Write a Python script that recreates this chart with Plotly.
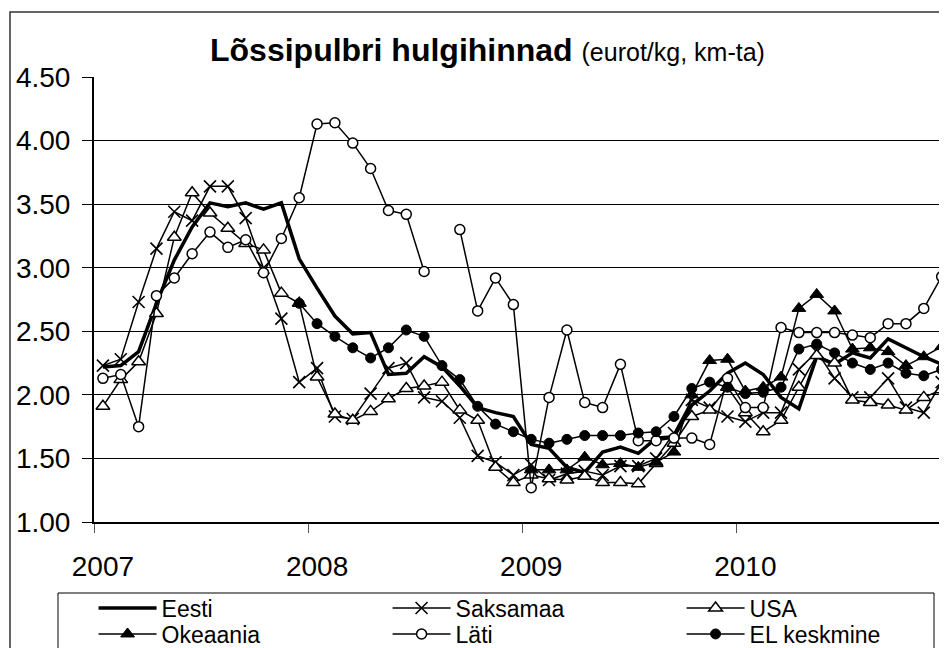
import plotly.graph_objects as go

FONT = "Arial, Liberation Sans, sans-serif"

years = [2007, 2008, 2009, 2010]
months = [f"{y}-{m:02d}" for y in years for m in range(1, 13)]
N = None

eesti = [2.22, 2.23, 2.34, 2.72, 3.06, 3.32, 3.51, 3.48, 3.51, 3.46, 3.51, 3.07,
         2.84, 2.62, 2.48, 2.49, 2.16, 2.17, 2.30, 2.22, 2.07, 1.90, 1.86, 1.83,
         1.61, 1.58, 1.43, 1.39, 1.55, 1.59, 1.54, 1.66, 1.67, 1.92, 2.03, 2.17,
         2.25, 2.16, 1.98, 1.89, 2.30, 2.24, 2.33, 2.29, 2.44, 2.37, 2.30, 2.24]

saksamaa = [2.23, 2.28, 2.73, 3.15, 3.44, 3.37, 3.64, 3.64, 3.39, 3.00, 2.60, 2.10,
            2.21, 1.83, 1.81, 2.01, 2.21, 2.25, 1.98, 1.95, 1.82, 1.52, 1.47, 1.37,
            1.45, 1.33, 1.38, 1.40, 1.37, 1.44, 1.44, 1.50, 1.70, 1.96, 1.90, 1.83,
            1.79, 1.86, 1.86, 2.20, 2.34, 2.13, 1.98, 1.98, 2.13, 1.90, 1.86, 2.10]

usa = [1.91, 2.12, 2.26, 2.64, 3.24, 3.59, 3.43, 3.31, 3.19, 3.14, 2.80, 2.72,
       2.14, 1.85, 1.80, 1.87, 1.97, 2.05, 2.07, 2.10, 1.88, 1.80, 1.43, 1.31,
       1.37, 1.34, 1.33, 1.36, 1.31, 1.31, 1.30, 1.46, 1.62, 1.83, 1.88, 2.06,
       1.86, 1.71, 1.80, 2.06, 2.31, 2.25, 1.96, 1.94, 1.92, 1.88, 1.98, 2.04]

okeaania = [N, N, N, N, N, N, N, N, N, N, N, N,
            N, N, N, N, N, N, N, N, N, N, N, N,
            1.41, 1.41, 1.41, 1.51, 1.45, 1.46, 1.43, 1.47, 1.55, 2.00, 2.27, 2.28,
            2.03, 2.06, 2.14, 2.68, 2.79, 2.66, 2.36, 2.37, 2.34, 2.23, 2.30, 2.38]

lati = [2.13, 2.16, 1.75, 2.78, 2.92, 3.11, 3.28, 3.16, 3.22, 2.96, 3.23, 3.55,
        4.13, 4.14, 3.98, 3.78, 3.45, 3.42, 2.97, N, 3.30, 2.66, 2.92, 2.71,
        1.27, 1.98, 2.51, 1.94, 1.90, 2.24, 1.64, 1.64, 1.66, 1.66, 1.61, 2.13,
        1.90, 1.90, 2.53, 2.49, 2.49, 2.49, 2.47, 2.45, 2.56, 2.56, 2.68, 2.93]

el_keskmine = [N, N, N, N, N, N, N, N, N, N, N, 2.72,
               2.56, 2.46, 2.37, 2.29, 2.37, 2.51, 2.46, 2.23, 2.12, 1.91, 1.77, 1.71,
               1.65, 1.62, 1.65, 1.68, 1.68, 1.68, 1.70, 1.71, 1.83, 2.05, 2.10, 2.06,
               2.01, 2.02, 2.06, 2.36, 2.40, 2.33, 2.25, 2.20, 2.25, 2.17, 2.15, 2.20]

y_ticks = [1.0, 1.5, 2.0, 2.5, 3.0, 3.5, 4.0, 4.5]

x = list(range(len(months)))
year_pos = [months.index(f"{y}-01") for y in years]
year_text = [str(y) for y in years]
boundary_pos = [p - 0.5 for p in year_pos]

# The page adds an 8px body margin, so the figure is sized to fit the window.
OFF = 8
W, H = 947 - OFF, 648 - OFF
PL, PT, PB = 94, 77, 522          # plot area edges in window pixels
L, T = PL - OFF, PT - OFF
B = H - (PB - OFF)
pw, ph = W - L, H - T - B


def sx(xs):
    return (xs - PL) / pw


def sy(ys):
    return (PB - ys) / ph


fig = go.Figure()

thin = 1.5
series = [
    ("Eesti", eesti, dict(width=3.5), None, "legend"),
    ("Saksamaa", saksamaa, dict(width=thin),
     dict(symbol="x-thin-open", size=12, line=dict(width=1.6, color="black"), color="black"), "legend"),
    ("USA", usa, dict(width=thin),
     dict(symbol="triangle-up", size=12, color="white", line=dict(width=1.5, color="black")), "legend"),
    ("Okeaania", okeaania, dict(width=thin),
     dict(symbol="triangle-up", size=12, color="black", line=dict(width=1, color="black")), "legend2"),
    ("Läti", lati, dict(width=thin),
     dict(symbol="circle", size=10, color="white", line=dict(width=1.5, color="black")), "legend2"),
    ("EL keskmine", el_keskmine, dict(width=thin),
     dict(symbol="circle", size=10, color="black", line=dict(width=1, color="black")), "legend2"),
]

for name, vals, line, marker, leg in series:
    kw = dict(x=x, y=vals, name=name, legend=leg,
              line=dict(color="black", **line))
    if marker is None:
        kw["mode"] = "lines"
    else:
        kw["mode"] = "lines+markers"
        kw["marker"] = marker
    fig.add_trace(go.Scatter(**kw))

fig.update_xaxes(
    range=[-0.5, 47.3], automargin=False,
    tickmode="array", tickvals=year_pos, ticktext=year_text,
    ticks="", ticklabelstandoff=18,
    tickfont=dict(size=28, family=FONT, color="black"),
    showgrid=False, zeroline=False,
    showline=True, linecolor="black", linewidth=2,
    minor=dict(tickmode="array", tickvals=boundary_pos, ticks="outside",
               ticklen=9, tickcolor="#555555", tickwidth=1, showgrid=False),
)

fig.update_yaxes(
    range=[1.0, 4.5], automargin=False,
    tickmode="array", tickvals=y_ticks, tickformat=".2f",
    ticks="outside", ticklen=10, tickcolor="black", tickwidth=1,
    ticklabelstandoff=6,
    tickfont=dict(size=28, family=FONT, color="black"),
    showgrid=True, gridcolor="black", gridwidth=1,
    zeroline=False, showline=True, linecolor="black", linewidth=2,
)

legend_common = dict(
    orientation="h", xanchor="left", yanchor="middle",
    font=dict(size=23, family=FONT, color="black"),
    itemwidth=58, entrywidth=221, entrywidthmode="pixels",
    bgcolor="rgba(0,0,0,0)", borderwidth=0, tracegroupgap=0,
)

fig.update_layout(
    width=W, height=H,
    margin=dict(l=L, r=0, t=T, b=B, pad=0, autoexpand=False),
    paper_bgcolor="white", plot_bgcolor="white",
    font=dict(family=FONT, color="black"),
    showlegend=True,
    legend=dict(x=-0.0005, y=sy(608), **legend_common),
    legend2=dict(x=-0.0005, y=sy(634), **legend_common),
    shapes=[
        dict(type="rect", xref="paper", yref="paper",
             x0=sx(10), x1=sx(980), y0=sy(690), y1=sy(12),
             line=dict(color="#333333", width=1.5), fillcolor="rgba(0,0,0,0)", layer="below"),
        dict(type="rect", xref="paper", yref="paper",
             x0=sx(58), x1=sx(934), y0=sy(690), y1=sy(593),
             line=dict(color="black", width=1), fillcolor="rgba(0,0,0,0)"),
    ],
    annotations=[
        dict(xref="paper", yref="paper", x=sx(487), y=sy(50),
             xanchor="center", yanchor="middle", showarrow=False,
             text="<b>Lõssipulbri hulgihinnad</b> <span style='font-size:25px'>(eurot/kg, km-ta)</span>",
             font=dict(size=32, family=FONT, color="black")),
    ],
)

fig.write_html("out.html")
